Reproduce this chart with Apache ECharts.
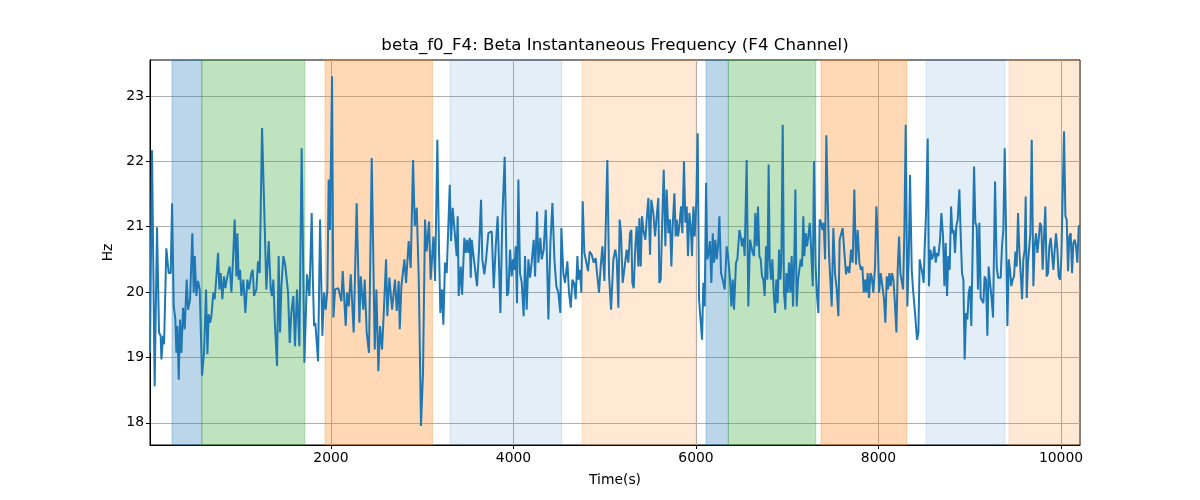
<!DOCTYPE html>
<html>
<head>
<meta charset="utf-8">
<script src="https://cdn.jsdelivr.net/npm/echarts@6/dist/echarts.min.js"></script>
<style>
html,body{margin:0;padding:0;background:#fff;}
#chart{width:1200px;height:500px;}
</style>
</head>
<body>
<div id="chart"></div>
<script>
// ---- data ----
const titleText = 'beta_f0_F4: Beta Instantaneous Frequency (F4 Channel)';
const xAxisName = 'Time(s)';
const yAxisName = 'Hz';
const xTicks = [2000, 4000, 6000, 8000, 10000];
const yTicks = [18, 19, 20, 21, 22, 23];
const xRange = [16, 10208];
const yRange = [17.66, 23.55];

const times = [
16,38,67,93,115,133,141,159,170,195,221,243,258,276,294,305,316,331,345,360,378,396,418,433,455,480,495,506,524,542,561,586,608,630,645,659,674,689,710,725,743,762,776,791,809,827,842,857,871,889,908,926,944,963,974,988,1003,1017,1039,1061,1083,1101,1127,1142,1156,1182,1200,1218,1244,1273,1291,1317,1339,1353,1368,1383,1408,1426,1441,1456,1478,1500,1529,1547,1565,1587,1605,1627,1653,1678,1708,1737,
1763,1788,1799,1814,1828,1858,1880,1905,1923,1942,1960,1974,1989,2011,2026,2044,2080,2113,2128,2161,2175,2194,2216,2248,2281,2311,2325,2354,2369,2391,2416,2446,2479,2497,2519,2537,2559,2581,2603,2617,2639,2669,2701,2720,2742,2753,2771,2804,2822,2851,2873,2899,2917,2939,2961,2986,3008,3030,3048,3074,3092,3122,3140,3165,3184,3198,3217,3231,3249,3268,3301,3315,3333,
3377,3388,3399,3421,3436,3461,3476,3490,3505,3520,3531,3542,3564,3585,3600,3622,3644,3658,3680,3699,3724,3739,3761,3783,3805,3826,3856,3878,3903,3929,3943,3962,3980,3995,4009,4024,4038,4053,4071,4090,4111,4126,4144,4163,4181,4199,4221,4236,4258,4272,4294,4309,4331,4353,4367,4382,4404,4426,4448,4469,4491,4513,4524,4546,4564,4590,4608,4627,4645,4663,4681,4700,4711,4729,4743,4758,4776,4791,4816,4835,4857,4879,4900,4915,4937,4955,4974,4996,5028,5047,5069,
5094,5116,5131,5149,5163,5178,5196,5218,5240,5258,5277,5291,5302,5317,5335,5350,5368,5379,5394,5408,5423,5445,5459,5478,5496,5510,5532,5551,5569,5587,5598,5613,5631,5646,5664,5678,5697,5715,5730,5744,5763,5777,5788,5803,5817,5836,5850,5868,5883,5898,5912,5927,5942,5956,5971,5985,6004,6018,6033,6051,6066,6080,6095,6110,6124,6139,6153,6168,6183,6197,6212,6226,6241,6256,6274,6292,6314,6336,6351,6373,6387,6402,6416,6438,6453,6475,6489,6504,6519,6533,6555,6573,6592,6606,6621,6636,6650,6665,6679,6694,6709,6723,6738,6752,6767,6782,6796,
6807,6822,6837,6851,6866,6880,6895,6910,6924,6935,6950,6964,6979,6990,7005,7019,7034,7048,7063,7078,7089,7103,7118,7132,7147,7162,7176,7187,7202,7216,7231,7246,7260,7279,7293,7311,7326,7341,7355,7370,7385,7399,7414,7428,7443,7458,7472,7487,7505,7523,7542,7560,7574,7589,7607,7626,7644,7662,7680,7699,7717,7735,7753,7772,7790,7808,7823,7838,7852,7867,7881,7896,7911,7925,7943,7962,7976,7991,8006,8024,8042,8060,8075,8090,8104,8119,8133,8148,8163,8177,8196,8210,8225,8239,8254,8269,8283,8298,8316,8331,8345,8364,8378,8400,8422,8437,8451,8466,8480,8495,
8506,8521,8539,8553,8568,8583,8597,8612,8627,8641,8656,8674,8689,8707,8722,8736,8751,8765,8780,8795,8809,8824,8838,8853,8868,8886,8900,8915,8930,8944,8959,8974,8988,9003,9017,9032,9047,9061,9076,9090,9105,9120,9134,9149,9163,9178,9193,9207,9222,9237,9255,9277,9295,9310,9324,9339,9353,9368,9383,9397,9412,9427,9441,9456,9470,9485,9500,9514,9529,9543,9558,9573,9587,9602,9613,9624,9638,9653,9664,9679,9697,9711,9726,9741,9755,9770,9784,9799,9814,9828,9843,9858,9872,9887,9901,9916,9931,9945,9960,9974,9989,10004,10018,10033,10048,10062,10077,10091,10106,10121,10135,10150,10164,10179,10194,10208
];

const freqHz = [
19.07,22.17,18.56,20.99,19.38,19.33,18.97,19.33,19.20,20.67,20.29,20.29,21.36,19.78,19.58,19.07,19.48,18.66,19.58,19.07,19.76,19.43,20.19,19.73,19.89,20.90,19.99,20.55,19.94,20.17,20.04,18.72,19.07,20.04,19.05,19.66,19.53,19.63,19.99,19.89,20.22,20.60,20.04,20.29,19.89,20.24,20.06,20.19,20.29,20.39,19.99,20.50,21.11,20.24,20.90,20.19,20.34,19.94,20.19,19.68,20.19,20.04,20.29,20.34,19.94,20.04,20.47,20.29,22.51,21.01,20.04,20.78,20.04,19.94,20.19,19.58,18.87,20.55,19.38,20.09,20.55,20.39,19.99,19.22,19.68,19.94,19.17,20.04,19.17,22.20,18.92,20.27,
19.94,21.21,20.29,19.48,19.53,18.94,21.11,19.33,19.99,19.73,20.04,21.72,20.95,23.30,19.61,20.04,20.06,19.86,20.32,19.48,19.99,19.78,20.27,19.38,21.36,19.53,20.24,19.73,20.19,19.38,19.07,22.05,19.12,20.04,18.79,19.48,19.12,19.78,20.50,19.63,20.22,19.73,20.19,19.71,20.17,19.43,20.09,20.50,20.14,20.78,20.37,22.02,21.01,21.29,20.24,17.95,18.77,21.11,20.62,21.08,20.19,20.85,20.17,22.33,20.60,19.68,20.04,19.50,20.45,20.29,21.64,20.78,21.29,
20.55,21.16,19.94,20.39,19.96,20.83,20.60,20.80,20.60,20.83,20.22,20.80,20.52,20.50,20.09,20.65,21.41,20.50,20.27,20.50,20.90,20.88,20.93,20.06,20.70,21.16,19.68,21.16,22.07,19.94,19.99,20.65,20.24,20.50,20.34,20.70,19.83,21.72,20.29,20.14,19.63,20.55,19.73,20.50,20.22,20.45,20.80,20.24,21.23,20.45,20.83,20.50,20.65,21.26,20.50,19.58,20.75,21.36,20.50,20.09,19.99,19.68,20.98,20.29,20.14,20.47,19.99,19.76,20.19,20.14,19.89,20.55,20.19,20.34,19.99,21.39,20.60,20.50,20.32,20.62,20.57,20.45,20.52,20.29,19.99,20.39,20.70,20.17,22.02,20.24,19.73,
20.50,20.65,20.50,19.76,21.11,20.90,20.14,20.39,20.65,20.45,20.90,20.95,20.14,20.06,20.70,21.01,20.39,21.13,20.39,21.16,20.95,20.80,21.11,21.44,20.57,21.41,21.21,20.85,21.16,21.44,20.14,20.19,21.16,21.87,20.70,21.57,20.90,21.11,20.39,21.01,21.51,20.85,21.11,20.85,21.01,21.31,20.90,22.00,21.06,21.31,20.55,21.21,21.01,20.55,21.31,20.85,21.41,22.43,19.89,19.89,19.27,20.14,19.78,21.67,20.50,20.60,20.78,20.14,20.90,20.45,20.80,20.50,20.70,21.16,20.29,20.19,20.04,20.70,20.55,20.19,19.78,20.19,19.73,20.45,20.50,20.95,20.85,20.70,20.83,20.55,22.02,19.78,20.80,20.70,20.60,20.55,21.21,20.70,21.31,20.55,20.50,20.24,20.19,19.94,20.70,20.19,21.95,
20.50,20.19,20.50,19.99,19.68,20.19,19.83,20.65,20.19,20.45,22.56,19.99,19.73,20.29,19.99,20.45,19.99,20.55,19.78,20.60,21.57,19.78,20.19,20.34,20.50,20.39,21.16,20.55,20.90,20.70,20.85,21.06,20.70,20.09,22.00,20.39,19.94,19.68,21.11,21.06,20.95,21.06,20.50,22.40,21.41,20.55,20.19,19.78,20.98,20.29,20.04,19.63,20.80,20.80,20.98,20.60,20.27,20.39,20.29,20.65,20.45,21.57,20.42,20.95,20.45,20.34,20.39,19.99,20.19,19.99,20.29,19.91,20.29,20.24,19.99,20.39,21.31,20.85,19.99,20.29,20.09,19.89,19.53,20.24,20.04,20.29,20.09,20.29,20.19,19.89,19.38,20.34,20.85,20.29,20.29,20.04,20.90,22.56,19.78,20.50,21.79,20.34,20.04,19.68,19.27,19.38,20.50,20.39,20.29,20.14,
20.70,21.21,22.35,20.09,20.65,20.50,20.55,20.70,20.45,20.60,20.55,20.80,21.21,20.85,20.09,20.75,19.94,20.55,20.34,21.31,20.90,20.95,20.60,21.01,21.11,21.57,20.90,20.29,20.19,18.97,19.68,19.58,19.99,20.09,19.48,20.70,21.92,21.06,21.01,20.04,21.06,19.91,19.89,19.83,20.24,20.19,19.33,20.39,20.14,19.94,19.61,21.69,20.39,20.22,20.22,20.22,20.70,20.95,22.20,21.01,19.48,20.50,20.34,20.09,20.19,20.24,20.62,20.39,21.21,20.65,20.29,19.89,20.50,20.65,21.46,19.91,20.45,20.47,20.90,22.33,20.09,20.70,20.90,20.60,20.80,21.06,21.01,20.34,20.85,21.31,20.24,20.29,20.70,20.83,20.80,20.34,20.65,20.90,20.65,20.24,20.19,20.55,20.55,22.46,21.16,21.11,20.32,20.85,20.90,20.29,20.75,20.80,20.70,20.45,21.01,21.01
];

// shaded spans: start, end, kind
const spanStart = [257, 584, 1934, 3304, 4751, 6110, 6354, 7370, 8521, 9430];
const spanEnd   = [584, 1712, 3111, 4528, 6000, 6354, 7312, 8309, 9386, 10208];
const spanKind  = ['blue', 'green', 'orange', 'lightblue', 'lightorange', 'blue', 'green', 'orange', 'lightblue', 'lightorange'];

// ---- styling ----
const kindColor = {
  blue: 'rgba(31,119,180,0.3)',
  green: 'rgba(44,160,44,0.3)',
  orange: 'rgba(255,127,14,0.3)',
  lightblue: 'rgba(31,119,180,0.12)',
  lightorange: 'rgba(255,127,14,0.18)'
};

const seriesData = times.map((t, i) => [t, freqHz[i]]);
const areas = spanStart.map((s, i) => [
  { xAxis: s, itemStyle: { color: kindColor[spanKind[i]], borderColor: kindColor[spanKind[i]], borderWidth: 1 } },
  { xAxis: spanEnd[i] }
]);

const FONT = 'DejaVu Sans';
const chart = echarts.init(document.getElementById('chart'), null, { renderer: 'canvas' });
chart.setOption({
  animation: false,
  backgroundColor: '#ffffff',
  title: {
    text: titleText,
    left: 615, top: 37, textAlign: 'center', padding: 0,
    textStyle: { fontFamily: FONT, fontSize: 16.67, fontWeight: 'normal', color: '#000' }
  },
  grid: { left: 150, right: 120, top: 60, bottom: 55, show: true, borderColor: '#000', borderWidth: 1, backgroundColor: 'transparent' },
  xAxis: {
    type: 'value', min: xRange[0], max: xRange[1],
    name: xAxisName, nameLocation: 'middle', nameGap: 28,
    nameTextStyle: { fontFamily: FONT, fontSize: 13.9, color: '#000' },
    axisLine: { show: true, lineStyle: { color: '#000', width: 1 } },
    axisTick: { show: true, length: 4, customValues: xTicks, lineStyle: { color: '#000', width: 1 } },
    axisLabel: { customValues: xTicks, formatter: v => String(v), fontFamily: FONT, fontSize: 13.9, color: '#000', margin: 6 },
    splitLine: { show: true, lineStyle: { color: '#b0b0b0', width: 1 } }
  },
  yAxis: {
    type: 'value', min: yRange[0], max: yRange[1],
    name: yAxisName, nameLocation: 'middle', nameGap: 30, nameRotate: 90,
    nameTextStyle: { fontFamily: FONT, fontSize: 13.9, color: '#000' },
    axisLine: { show: true, lineStyle: { color: '#000', width: 1 } },
    axisTick: { show: true, length: 4, customValues: yTicks, lineStyle: { color: '#000', width: 1 } },
    axisLabel: { customValues: yTicks, formatter: v => String(v), fontFamily: FONT, fontSize: 13.9, color: '#000', margin: 6 },
    splitLine: { show: true, lineStyle: { color: '#b0b0b0', width: 1 } }
  },
  series: [{
    type: 'line',
    data: seriesData,
    showSymbol: false,
    symbol: 'none',
    clip: true,
    lineStyle: { color: '#1f77b4', width: 2 },
    z: 3,
    markArea: { silent: true, data: areas, z: 1 }
  }]
});
</script>
</body>
</html>
